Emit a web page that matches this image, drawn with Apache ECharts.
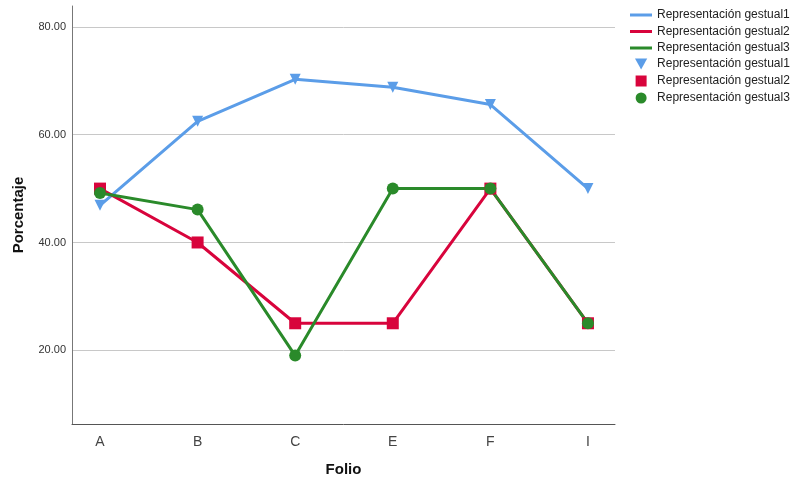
<!DOCTYPE html>
<html><head><meta charset="utf-8">
<script src="https://cdn.jsdelivr.net/npm/echarts@6/dist/echarts.min.js"></script>
<style>html,body{margin:0;padding:0;background:#fff}#c{width:795px;height:482px}</style>
</head><body><div id="c"></div>
<script>
const categories = ['A','B','C','E','F','I'];
const seriesNames = ['Representación gestual1','Representación gestual2','Representación gestual3'];
const gestual1 = [46.9, 62.5, 70.3, 68.8, 65.6, 50.0];
const gestual2 = [50.0, 40.0, 25.0, 25.0, 50.0, 25.0];
const gestual3 = [49.2, 46.1, 19.0, 50.0, 50.0, 25.0];
const colors = ['#5b9de8', '#d8043c', '#2a8a2a'];
const font = 'Liberation Sans, Arial, sans-serif';

const values = [gestual1, gestual2, gestual3];
const pts = v => v.map((y,i)=>[i,y]);
const triPath = 'path://M0,0 L10,0 L5,9 Z';
const sqPath = 'path://M0,0 L10,0 L10,10 L0,10 Z';
const symbols = [triPath, 'rect', 'circle'];
const legendSymbols = [triPath, sqPath, 'circle'];
const symSizes = [11, 12, 12];

const series = [];
values.forEach((v,k)=>series.push({
  type:'line', name:seriesNames[k], data:pts(v), showSymbol:false, symbol:'none',
  lineStyle:{color:colors[k], width:3}, itemStyle:{color:colors[k]}, z:2, silent:true
}));
values.forEach((v,k)=>series.push({
  type:'scatter', name:seriesNames[k], data:pts(v), symbol:symbols[k], symbolSize:symSizes[k],
  itemStyle:{color:colors[k], opacity:1}, z:3, silent:true
}));

const chart = echarts.init(document.getElementById('c'), null, {renderer:'canvas'});
chart.setOption({
  animation:false,
  backgroundColor:'#fff',
  grid:{left:72, right:180, top:6, bottom:57, containLabel:false},
  xAxis:{
    type:'value', min:-0.287, max:5.277, splitNumber:5,
    name:'Folio', nameLocation:'middle', nameGap:38,
    nameTextStyle:{fontFamily:font, fontWeight:'bold', fontSize:15, color:'#111'},
    axisLine:{show:true, onZero:false, lineStyle:{color:'#555', width:1}},
    axisTick:{show:false},
    splitLine:{show:false},
    axisLabel:{margin:11, fontFamily:font, fontSize:14, color:'#444',
      showMinLabel:false, showMaxLabel:false,
      formatter:v=>Number.isInteger(v)&&categories[v]!==undefined?categories[v]:''}
  },
  yAxis:{
    type:'value', min:6.3, max:83.9, splitNumber:4,
    name:'Porcentaje', nameLocation:'middle', nameGap:46,
    nameTextStyle:{fontFamily:font, fontWeight:'bold', fontSize:15, color:'#111'},
    axisLine:{show:true, onZero:false, lineStyle:{color:'#777', width:1}},
    axisTick:{show:false},
    splitLine:{show:true, showMinLine:false, showMaxLine:false, lineStyle:{color:'#c8c8c8', width:1}},
    axisLabel:{margin:6, fontFamily:font, fontSize:11, color:'#333',
      showMinLabel:false, showMaxLabel:false,
      formatter:v=>(Math.abs(v%20)<1e-6)?v.toFixed(2):''}
  },
  legend:[
    {orient:'vertical', left:625, top:4, itemWidth:22, itemHeight:3, itemGap:4.5,
     selectedMode:false,
     textStyle:{fontFamily:font, fontSize:12, color:'#222', lineHeight:12},
     data:seriesNames.map((n,k)=>({name:n, icon:'rect', itemStyle:{color:colors[k]}}))},
    {orient:'vertical', left:630, top:53, itemWidth:22, itemHeight:11, itemGap:5,
     selectedMode:false,
     textStyle:{fontFamily:font, fontSize:12, color:'#222', lineHeight:12},
     data:seriesNames.map((n,k)=>({name:n, icon:legendSymbols[k], itemStyle:{color:colors[k]}}))}
  ],
  series:series
});
</script></body></html>
